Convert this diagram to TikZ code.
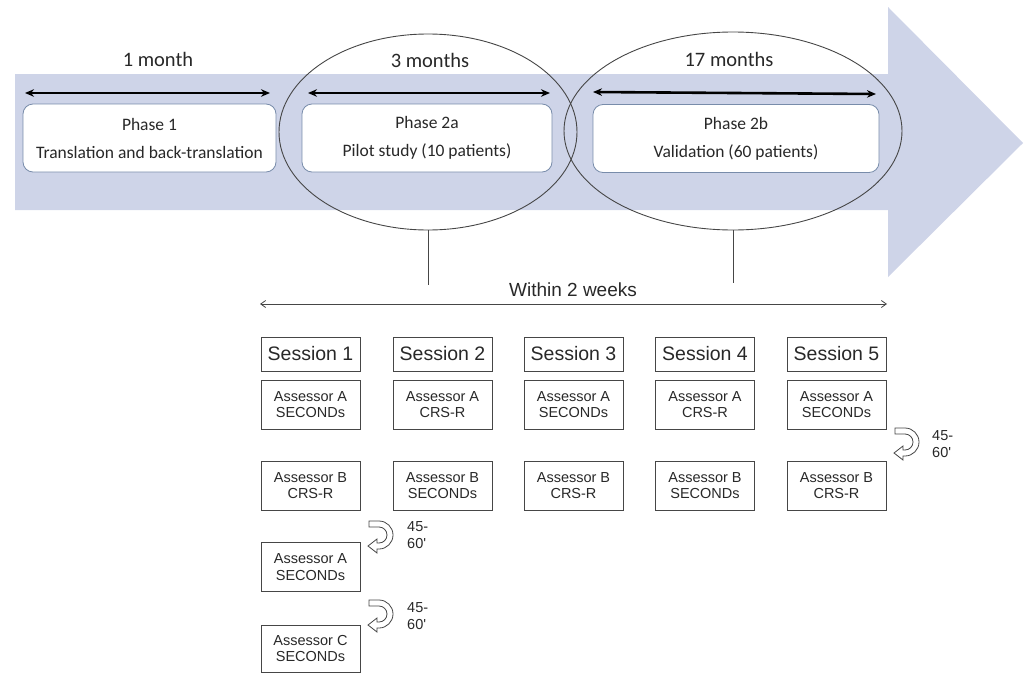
\documentclass[tikz,border=0pt]{standalone}
\usepackage{fontspec}
\setmainfont{Carlito}
\newfontfamily\arial{Liberation Sans}
\usetikzlibrary{arrows.meta,shapes.geometric}
\definecolor{band}{RGB}{206,212,232}
\definecolor{boxline}{RGB}{120,140,170}
\definecolor{gline}{RGB}{70,70,70}
\definecolor{gtext}{RGB}{40,40,40}
\begin{document}
\begin{tikzpicture}[x=1pt,y=-1pt,
  phasebox/.style={draw=boxline, line width=0.8pt, fill=white, rounded corners=10pt,
    minimum height=68pt, inner sep=0pt, align=center, text=gtext,
    font=\fontsize{17.5}{28}\selectfont},
  periodlabel/.style={text=gtext, font=\fontsize{20.5}{24}\selectfont},
  period/.style={line width=2.6pt, {Stealth[length=9pt,width=7.5pt]}-{Stealth[length=9pt,width=7.5pt]}},
  phaseellipse/.style={ellipse, draw=gline, line width=0.9pt, inner sep=0pt},
  linec/.style={draw=gline, line width=0.9pt},
  sessbox/.style={draw=gline, line width=0.9pt, minimum width=99pt, minimum height=34pt,
    inner sep=0pt, text=gtext, font=\arial\fontsize{19.5}{22}\selectfont},
  assbox/.style={draw=gline, line width=0.9pt, minimum width=99pt, minimum height=49pt,
    inner sep=0pt, align=center, text=gtext, font=\arial\fontsize{14.5}{16.5}\selectfont},
  waitlabel/.style={anchor=west, align=left, inner sep=0pt, text=gtext, font=\arial\fontsize{14.5}{17}\selectfont},
  uturn/.pic={\draw[draw=gline, line width=0.8pt, fill=white]
    (2,1) -- (12,1) arc[start angle=-90,end angle=90,radius=14] -- (10,29) -- (10,33)
    -- (1,26) -- (10,19) -- (10,23) -- (12,23) arc[start angle=90,end angle=-90,radius=8]
    -- (2,7) -- cycle;}
]
\useasboundingbox (0,0) rectangle (1028,672);
% big arrow
\fill[band] (15,74) -- (888,74) -- (888,7) -- (1023,143) -- (888,277) -- (888,210) -- (15,210) -- cycle;

% phase boxes
\node[phasebox, minimum width=253pt] (p1) at (149.5,138) {Phase 1\\Translation and back-translation};
\node[phasebox, minimum width=250pt] (p2a) at (427,138) {Phase 2a\\Pilot study (10 patients)};
\node[phasebox, minimum width=286pt] (p2b) at (736,138.5) {Phase 2b\\Validation (60 patients)};

% period labels and arrows
\node[periodlabel] (l1) at (158,59) {1 month};
\node[periodlabel] (l2) at (430,60) {3 months};
\node[periodlabel] (l3) at (729,59) {17 months};
\coordinate (a1l) at (25,93);  \coordinate (a1r) at (270,93);
\coordinate (a2l) at (308,93); \coordinate (a2r) at (550,93);
\coordinate (a3l) at (593,92); \coordinate (a3r) at (876,94);
\draw[period] (a1l) -- (a1r);
\draw[period] (a2l) -- (a2r);
\draw[period] (a3l) -- (a3r);

% ellipses
\node[phaseellipse, minimum width=298pt, minimum height=196pt] (e1) at (428,132) {};
\node[phaseellipse, minimum width=338pt, minimum height=198pt] (e2) at (733,131) {};
\coordinate (v1) at (428,285);
\coordinate (v2) at (733,283);
\draw[linec] (e1.south) -- (v1);
\draw[linec] (e2.south) -- (v2);

% within 2 weeks
\coordinate (w1) at (260,304);
\coordinate (w2) at (887,304);
\draw[line width=0.8pt, draw=gline, {Straight Barb[length=5pt,width=7pt]}-{Straight Barb[length=5pt,width=7pt]}] (w1) -- (w2);
\node[text=gtext, font=\arial\fontsize{19}{22}\selectfont] (wt) at (573,290) {Within 2 weeks};

% sessions
\node[sessbox] (s1) at (310.5,354) {Session 1};
\node[sessbox] (s2) at (442.5,354) {Session 2};
\node[sessbox] (s3) at (573.5,354) {Session 3};
\node[sessbox] (s4) at (705,354) {Session 4};
\node[sessbox] (s5) at (836.5,354) {Session 5};

\node[assbox] (a1) at (310.5,404.5) {Assessor A\\SECONDs};
\node[assbox] (a2) at (442.5,404.5) {Assessor A\\CRS-R};
\node[assbox] (a3) at (573.5,404.5) {Assessor A\\SECONDs};
\node[assbox] (a4) at (705,404.5) {Assessor A\\CRS-R};
\node[assbox] (a5) at (836.5,404.5) {Assessor A\\SECONDs};

\node[assbox] (b1) at (310.5,485.5) {Assessor B\\CRS-R};
\node[assbox] (b2) at (442.5,485.5) {Assessor B\\SECONDs};
\node[assbox] (b3) at (573.5,485.5) {Assessor B\\CRS-R};
\node[assbox] (b4) at (705,485.5) {Assessor B\\SECONDs};
\node[assbox] (b5) at (836.5,485.5) {Assessor B\\CRS-R};

\node[assbox] (a1b) at (310.5,567) {Assessor A\\SECONDs};
\node[assbox, minimum height=47pt] (c1) at (310.5,648.5) {Assessor C\\SECONDs};

% waiting arrows
\pic at (893,427) {uturn};
\node[waitlabel] (t5) at (932,444) {45-\\60'};
\pic at (367,520) {uturn};
\node[waitlabel] (t1) at (407,535.5) {45-\\60'};
\pic at (367,599) {uturn};
\node[waitlabel] (t2) at (407,616) {45-\\60'};
\end{tikzpicture}
\end{document}
